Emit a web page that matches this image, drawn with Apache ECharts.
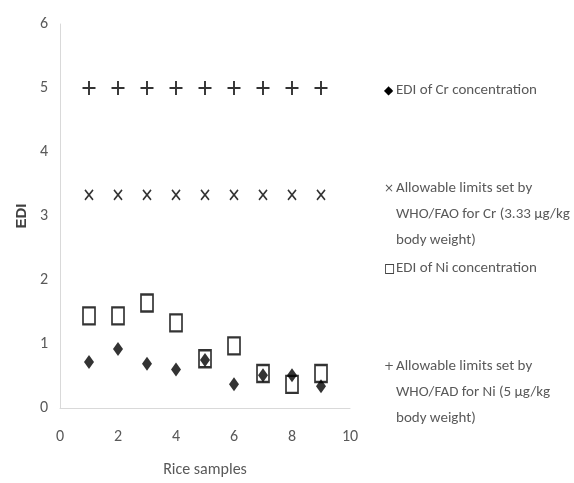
<!DOCTYPE html>
<html>
<head>
<meta charset="utf-8">
<script src="https://cdn.jsdelivr.net/npm/echarts@6/dist/echarts.min.js"></script>
<style>html,body{margin:0;padding:0;background:#fff;}#c{width:574px;height:483px;}</style>
</head>
<body>
<div id="c"></div>
<script>
var samples = [1, 2, 3, 4, 5, 6, 7, 8, 9];
var crEDI = [0.72, 0.92, 0.69, 0.60, 0.75, 0.37, 0.51, 0.51, 0.34];
var crLimit = [3.33, 3.33, 3.33, 3.33, 3.33, 3.33, 3.33, 3.33, 3.33];
var niEDI = [1.44, 1.44, 1.64, 1.33, 0.77, 0.97, 0.54, 0.37, 0.54];
var niLimit = [5, 5, 5, 5, 5, 5, 5, 5, 5];
var xTicks = [0, 2, 4, 6, 8, 10];
var yTicks = [0, 1, 2, 3, 4, 5, 6];

var seriesNames = [
  'EDI of Cr concentration',
  'Allowable limits set by WHO/FAO for Cr (3.33 µg/kg body weight)',
  'EDI of Ni concentration',
  'Allowable limits set by WHO/FAD for Ni (5 µg/kg body weight)'
];
var legendLines = [
  ['EDI of Cr concentration'],
  ['Allowable limits set by', 'WHO/FAO for Cr (3.33 µg/kg', 'body weight)'],
  ['EDI of Ni concentration'],
  ['Allowable limits set by', 'WHO/FAD for Ni (5 µg/kg', 'body weight)']
];
var legendMarks = ['◆', '×', '□', '+'];
var legendTops = [83, 181, 261, 359];

var FONT = "Carlito, Lato, sans-serif";

function pts(ys) { return samples.map(function (x, i) { return [x, ys[i]]; }); }

var legends = seriesNames.map(function (name, k) {
  return {
    data: [name],
    orient: 'vertical',
    left: 379,
    top: legendTops[k],
    padding: 0,
    icon: 'none',
    itemWidth: 0,
    itemHeight: 10,
    selectedMode: false,
    formatter: function () {
      return legendLines[k].map(function (line, j) {
        return (j === 0 ? '{m|' + legendMarks[k] + '}' : '{s| }') + '{t|' + line + '}';
      }).join('\n');
    },
    textStyle: {
      rich: {
        m: { fontFamily: 'DejaVu Sans', fontSize: 12, width: 12, color: k === 0 || k === 2 ? '#000' : '#595959', lineHeight: 26 },
        s: { width: 12, fontSize: 12, lineHeight: 26 },
        t: { fontFamily: FONT, fontSize: 15, color: '#595959', lineHeight: 26 }
      }
    }
  };
});

var option = {
  backgroundColor: '#fff',
  animation: false,
  legend: legends,
  grid: { left: 60, top: 24, width: 290, height: 386 },
  xAxis: {
    type: 'value', min: 0, max: 10, interval: 2,
    name: 'Rice samples', nameLocation: 'middle', nameGap: 54,
    nameTextStyle: { fontFamily: FONT, fontSize: 16, color: '#595959' },
    axisLine: { show: true, lineStyle: { color: '#d9d9d9', width: 1 } },
    axisTick: { show: false },
    splitLine: { show: false },
    axisLabel: { margin: 21, fontFamily: FONT, fontSize: 16, color: '#595959',
      formatter: function (v) { return xTicks.indexOf(v) >= 0 ? String(v) : ''; } }
  },
  yAxis: {
    type: 'value', min: 0, max: 6, interval: 1,
    name: 'EDI', nameLocation: 'middle', nameGap: 26,
    nameTextStyle: { fontFamily: "'Liberation Sans', sans-serif", fontSize: 15, fontWeight: 'bold', color: '#404040' },
    axisLine: { show: true, lineStyle: { color: '#d9d9d9', width: 1 } },
    axisTick: { show: false },
    splitLine: { show: false },
    axisLabel: { margin: 12, fontFamily: FONT, fontSize: 16, color: '#595959',
      formatter: function (v) { return yTicks.indexOf(v) >= 0 ? String(v) : ''; } }
  },
  series: [
    {
      name: seriesNames[0], type: 'scatter', data: pts(crEDI),
      symbol: 'diamond', symbolSize: [10, 14], z: 2,
      itemStyle: { color: '#000' }
    },
    {
      name: seriesNames[1], type: 'scatter', data: pts(crLimit),
      symbol: 'path://M0,0L10,10M10,0L0,10', symbolSize: [8, 10], z: 3,
      itemStyle: { color: 'none', borderColor: '#000', borderWidth: 1.8 }
    },
    {
      name: seriesNames[2], type: 'scatter', data: pts(niEDI),
      symbol: 'rect', symbolSize: [12, 17], z: 3,
      itemStyle: { color: 'rgba(0,0,0,0)', borderColor: '#000', borderWidth: 2 }
    },
    {
      name: seriesNames[3], type: 'scatter', data: pts(niLimit),
      symbol: 'path://M5,0L5,10M0,5L10,5', symbolSize: [13, 14], z: 3,
      itemStyle: { color: 'none', borderColor: '#000', borderWidth: 2 }
    }
  ]
};

var chart = echarts.init(document.getElementById('c'), null, { renderer: 'canvas' });
chart.setOption(option);
</script>
</body>
</html>
